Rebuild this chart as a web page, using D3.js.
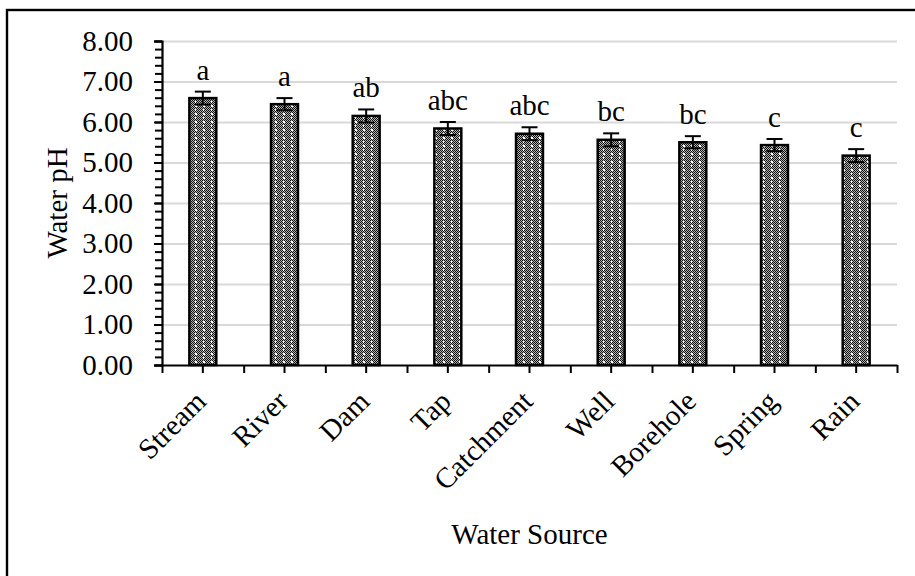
<!DOCTYPE html>
<html>
<head>
<meta charset="utf-8">
<script src="https://cdn.jsdelivr.net/npm/d3@7"></script>
<style>
  html, body { margin: 0; padding: 0; background: #fff; }
  svg { display: block; font-family: "Liberation Serif", "Times New Roman", serif; }
</style>
</head>
<body>
<div id="chart"></div>
<script>
// data
var categories = ['Stream', 'River', 'Dam', 'Tap', 'Catchment', 'Well', 'Borehole', 'Spring', 'Rain'];
var means = [6.59, 6.44, 6.15, 5.84, 5.71, 5.56, 5.50, 5.43, 5.17];
var errors = [0.16, 0.15, 0.16, 0.16, 0.16, 0.16, 0.15, 0.15, 0.16];
var letters = ['a', 'a', 'ab', 'abc', 'abc', 'bc', 'bc', 'c', 'c'];
var yTicks = [0, 1, 2, 3, 4, 5, 6, 7, 8];

var WIDTH = 915;
var HEIGHT = 576;
var FONT_SIZE = 29;
// plot area (note: "top" is a reserved window property, so prefix these)
var PLOT_LEFT = 162, PLOT_RIGHT = 897, PLOT_TOP = 41, PLOT_BOTTOM = 365;

var svg = d3.select('#chart').append('svg')
    .attr('width', WIDTH)
    .attr('height', HEIGHT);

// bar fill pattern (dotted grey)
var defs = svg.append('defs');
var pat = defs.append('pattern')
    .attr('id', 'dots')
    .attr('patternUnits', 'userSpaceOnUse')
    .attr('width', 8)
    .attr('height', 8);
pat.append('rect').attr('width', 8).attr('height', 8).attr('fill', '#b4b4b4');
for (var i = 0; i < 8; i++) {
    for (var j = 0; j < 8; j++) {
        if ((i + j) % 2 === 0) {
            pat.append('rect').attr('x', i).attr('y', j).attr('width', 1).attr('height', 1).attr('fill', '#111');
        }
    }
}
pat.append('rect').attr('x', 3).attr('y', 1).attr('width', 2).attr('height', 2).attr('fill', '#fff');
pat.append('rect').attr('x', 3).attr('y', 5).attr('width', 1).attr('height', 2).attr('fill', '#fff');

// outer frame
svg.append('rect')
    .attr('x', 7).attr('y', 10)
    .attr('width', 1000).attr('height', 1000)
    .attr('fill', 'none')
    .attr('stroke', '#000')
    .attr('stroke-width', 2.4);

var x = d3.scaleBand()
    .domain(categories)
    .range([PLOT_LEFT, PLOT_RIGHT])
    .paddingInner(0.67)
    .paddingOuter(0.335);

var xEdge = d3.scaleLinear()
    .domain([0, categories.length])
    .range([PLOT_LEFT, PLOT_RIGHT]);

var y = d3.scaleLinear()
    .domain([0, 8])
    .range([PLOT_BOTTOM, PLOT_TOP]);

// gridlines
svg.append('g')
    .attr('transform', `translate(${PLOT_LEFT},0)`)
    .call(d3.axisLeft(y).tickValues(yTicks.slice(1)).tickSize(-(PLOT_RIGHT - PLOT_LEFT)).tickFormat(''))
    .call((g) => g.select('.domain').remove())
    .selectAll('line')
    .attr('stroke', '#d9d9d9')
    .attr('stroke-width', 2);

// minor y ticks
svg.append('g')
    .attr('transform', `translate(${PLOT_LEFT},0)`)
    .call(d3.axisLeft(y).tickValues(d3.range(0, 41).map((d) => d / 5)).tickSize(7).tickFormat(''))
    .call((g) => g.select('.domain').remove())
    .selectAll('line')
    .attr('stroke', '#000')
    .attr('stroke-width', 2);

// bars
svg.append('g')
    .selectAll('rect')
    .data(categories)
    .enter()
    .append('rect')
    .attr('x', (d) => x(d))
    .attr('y', (d, i) => y(means[i]))
    .attr('width', x.bandwidth())
    .attr('height', (d, i) => y(0) - y(means[i]))
    .attr('fill', 'url(#dots)')
    .attr('stroke', '#000')
    .attr('stroke-width', 2.5);

// error bars
var cx = (d) => x(d) + x.bandwidth() / 2;
var eb = svg.append('g')
    .selectAll('g')
    .data(categories)
    .enter()
    .append('g')
    .attr('stroke', '#000')
    .attr('stroke-width', 2);
eb.append('line')
    .attr('x1', cx).attr('x2', cx)
    .attr('y1', (d, i) => y(means[i] + errors[i]))
    .attr('y2', (d, i) => y(means[i] - errors[i]));
eb.append('line')
    .attr('x1', (d) => cx(d) - 8).attr('x2', (d) => cx(d) + 8)
    .attr('y1', (d, i) => y(means[i] + errors[i]))
    .attr('y2', (d, i) => y(means[i] + errors[i]));
eb.append('line')
    .attr('x1', (d) => cx(d) - 8).attr('x2', (d) => cx(d) + 8)
    .attr('y1', (d, i) => y(means[i] - errors[i]))
    .attr('y2', (d, i) => y(means[i] - errors[i]));

// significance letters
svg.append('g')
    .selectAll('text')
    .data(categories)
    .enter()
    .append('text')
    .attr('x', cx)
    .attr('y', (d, i) => y(means[i] + errors[i]) - 12)
    .attr('text-anchor', 'middle')
    .style('font-size', FONT_SIZE + 'px')
    .text((d, i) => letters[i]);

// y axis
var yAxis = svg.append('g')
    .attr('transform', `translate(${PLOT_LEFT},0)`)
    .call(d3.axisLeft(y).tickValues(yTicks).tickSize(8).tickPadding(21).tickFormat(d3.format('.2f')));
yAxis.select('.domain').attr('stroke-width', 2.2);
yAxis.selectAll('line').attr('stroke-width', 2);
yAxis.selectAll('text')
    .style('font-size', FONT_SIZE + 'px')
    .style('font-family', '"Liberation Serif", "Times New Roman", serif')
    .attr('fill', '#000');

// x axis: ticks at edges and at centres
var xAxis = svg.append('g')
    .attr('transform', `translate(0,${PLOT_BOTTOM})`)
    .call(d3.axisBottom(xEdge).tickValues(d3.range(categories.length + 1)).tickSize(8).tickSizeOuter(0).tickFormat(''));
xAxis.select('.domain').attr('stroke-width', 2.2);
xAxis.selectAll('line').attr('stroke-width', 2);

var xCenter = svg.append('g')
    .attr('transform', `translate(0,${PLOT_BOTTOM})`)
    .call(d3.axisBottom(x).tickSize(8).tickFormat(''));
xCenter.select('.domain').remove();
xCenter.selectAll('line').attr('stroke-width', 2);

// rotated category labels
svg.append('g')
    .selectAll('text')
    .data(categories)
    .enter()
    .append('text')
    .attr('transform', (d) => `translate(${cx(d) + 5},${PLOT_BOTTOM + 38})rotate(-45)`)
    .attr('text-anchor', 'end')
    .style('font-size', FONT_SIZE + 'px')
    .text((d) => d);

// axis titles
svg.append('text')
    .attr('x', (PLOT_LEFT + PLOT_RIGHT) / 2)
    .attr('y', 544)
    .attr('text-anchor', 'middle')
    .style('font-size', FONT_SIZE + 'px')
    .text('Water Source');

svg.append('text')
    .attr('transform', `translate(67,${(PLOT_TOP + PLOT_BOTTOM) / 2})rotate(-90)`)
    .attr('text-anchor', 'middle')
    .style('font-size', FONT_SIZE + 'px')
    .text('Water pH');
</script>
</body>
</html>
